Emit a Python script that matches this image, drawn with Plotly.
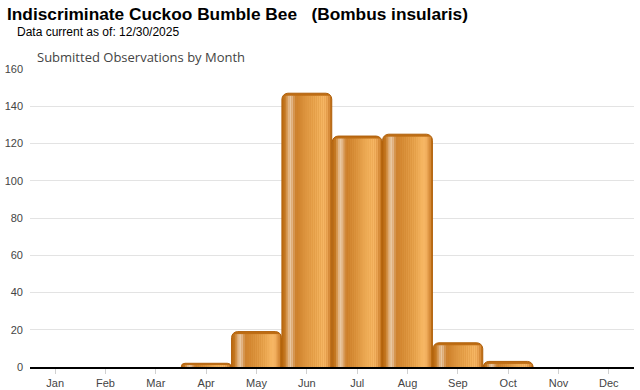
import plotly.graph_objects as go

months = ["Jan", "Feb", "Mar", "Apr", "May", "Jun", "Jul", "Aug", "Sep", "Oct", "Nov", "Dec"]
observations = [0, 0, 0, 2, 19, 147, 124, 125, 13, 3, 0, 0]
y_ticks = [0, 20, 40, 60, 80, 100, 120, 140, 160]

title_text = "Indiscriminate Cuckoo Bumble Bee   (Bombus insularis)"
subtitle_text = "Data current as of: 12/30/2025"
chart_title = "Submitted Observations by Month"

W, H = 640, 390
ML, MR, MT, MB = 30, 6, 69, 23
PW, PH = W - ML - MR, H - MT - MB
YMAX = 160
px_per_unit = PH / YMAX

BAR_W = 0.99
# left-to-right shading of each bar (cylinder look)
strip_colors = ["#C27620", "#D4934A", "#E2B583", "#E9C7A0", "#E2B484", "#D69650",
                "#CF8330", "#D1852F", "#D48933", "#D78D37", "#DA913B", "#DD953F",
                "#E09943", "#E39D47", "#E6A14B", "#E9A54F", "#ECA953", "#EFAD58",
                "#F2B15C", "#F5B460", "#F6B664", "#F3B160", "#E9A352", "#D88D3C"]

bar_y = [v if v > 0 else None for v in observations]

fig = go.Figure()
fig.add_trace(go.Bar(
    x=months, y=bar_y, width=BAR_W,
    marker=dict(color="#BE6D14", line=dict(color="#B0600A", width=1), cornerradius=6),
    hoverinfo="x+y", showlegend=False,
))

inner_left, inner_right = -BAR_W / 2 + 0.035, BAR_W / 2 - 0.035
n = len(strip_colors)
sw = (inner_right - inner_left) / n
inset = 2.5 / px_per_unit
strip_y = [max(v - inset, 0) if v > 0 else None for v in observations]
for i, c in enumerate(strip_colors):
    fig.add_trace(go.Bar(
        x=months, y=strip_y, width=sw * 1.1, offset=inner_left + i * sw,
        marker=dict(color=c, line=dict(width=0)),
        hoverinfo="skip", showlegend=False,
    ))

def px_x(p):
    return (p - ML) / PW

def px_y(p):
    return (H - MB - p) / PH

fig.update_layout(
    width=W, height=H,
    margin=dict(l=ML, r=MR, t=MT, b=MB, pad=0, autoexpand=False),
    barmode="overlay", bargap=0.01,
    plot_bgcolor="white", paper_bgcolor="white",
    font=dict(family="Arial, Liberation Sans, sans-serif", size=11, color="#444"),
    xaxis=dict(
        showgrid=False, showline=True, linecolor="#000", linewidth=1.5,
        ticks="outside", ticklen=5, tickcolor="#d0d0d0", tickwidth=1,
        tickfont=dict(size=11, color="#444"), fixedrange=True, automargin=False,
    ),
    yaxis=dict(
        range=[0, YMAX], tickvals=y_ticks, showgrid=True, gridcolor="#e3e3e3",
        gridwidth=1, zeroline=False, showline=False, ticks="",
        tickfont=dict(size=11, color="#444"), ticklabelstandoff=6, fixedrange=True,
        automargin=False,
    ),
    annotations=[
        dict(text="<b>" + title_text + "</b>", xref="paper", yref="paper",
             x=px_x(5), y=px_y(14), xanchor="left", yanchor="middle", showarrow=False,
             font=dict(family="Arial, Liberation Sans, sans-serif", size=17.3, color="#000")),
        dict(text=subtitle_text, xref="paper", yref="paper",
             x=px_x(15), y=px_y(32), xanchor="left", yanchor="middle", showarrow=False,
             font=dict(family="Arial, Liberation Sans, sans-serif", size=12, color="#000")),
        dict(text=chart_title, xref="paper", yref="paper",
             x=px_x(35), y=px_y(57), xanchor="left", yanchor="middle", showarrow=False,
             font=dict(family="Open Sans, Noto Sans, sans-serif", size=13, color="#444")),
    ],
)

fig.write_html(
    "out.html",
    config={"displayModeBar": False},
    post_script="document.body.style.margin='0px';document.body.style.overflow='hidden';",
)
